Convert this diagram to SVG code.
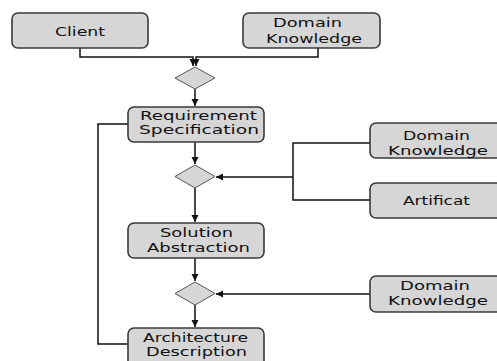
<svg xmlns="http://www.w3.org/2000/svg" width="497" height="361" viewBox="0 0 497 361">
<style>
.box{fill:#d6d6d6;stroke:#3a3a3a;stroke-width:1.6}
.dia{fill:#d6d6d6;stroke:#555;stroke-width:1}
.lbl{font-family:"DejaVu Sans","Liberation Sans",Arial,sans-serif;font-size:12.5px;fill:#111}
.sm{font-size:12px}
.ln{fill:none;stroke:#111;stroke-width:1.5}
</style>
<defs>
<marker id="ah" markerWidth="8" markerHeight="8" refX="7" refY="4" orient="auto" markerUnits="userSpaceOnUse">
<path d="M0,0.5 L7,4 L0,7.5 Z" fill="#111"/>
</marker>
</defs>
<rect width="497" height="361" fill="#fff"/>
<g id="connectors">
<path class="ln" d="M80,48 V57 H193 V66" marker-end="url(#ah)"/>
<path class="ln" d="M318,48 V57 H196 V66" marker-end="url(#ah)"/>
<path class="ln" d="M195,89 V106" marker-end="url(#ah)"/>
<path class="ln" d="M195,142 V164" marker-end="url(#ah)"/>
<path class="ln" d="M195,188 V222" marker-end="url(#ah)"/>
<path class="ln" d="M195,258 V281" marker-end="url(#ah)"/>
<path class="ln" d="M195,305 V327" marker-end="url(#ah)"/>
<path class="ln" d="M128,124 H98 V344 H128"/>
<path class="ln" d="M370,143 H293 V200 H370"/>
<path class="ln" d="M293,177 H216" marker-end="url(#ah)"/>
<path class="ln" d="M370,294 H216" marker-end="url(#ah)"/>
</g>
<g id="decision1"><polygon class="dia" points="195,67 215,78 195,89 175,78"/></g>
<g id="decision2"><polygon class="dia" points="195,165 215,176.5 195,188 175,176.5"/></g>
<g id="decision3"><polygon class="dia" points="195,282 215,293.5 195,305 175,293.5"/></g>
<g id="client">
<rect class="box" x="12" y="13" width="136" height="35" rx="6"/>
<text class="lbl" x="55" y="36" textLength="50" lengthAdjust="spacingAndGlyphs">Client</text>
</g>
<g id="domain-knowledge-1">
<rect class="box" x="243" y="13" width="137" height="35" rx="6"/>
<text class="lbl" x="273" y="27" textLength="69" lengthAdjust="spacingAndGlyphs">Domain</text>
<text class="lbl" x="266" y="43" textLength="96" lengthAdjust="spacingAndGlyphs">Knowledge</text>
</g>
<g id="requirement-specification">
<rect class="box" x="128" y="107" width="136" height="35" rx="6"/>
<text class="lbl" x="140" y="120" textLength="117" lengthAdjust="spacingAndGlyphs">Requirement</text>
<text class="lbl" x="139" y="134" textLength="120" lengthAdjust="spacingAndGlyphs">Specification</text>
</g>
<g id="domain-knowledge-2">
<rect class="box" x="370" y="123" width="135" height="35" rx="6"/>
<text class="lbl" x="403" y="140" textLength="67" lengthAdjust="spacingAndGlyphs">Domain</text>
<text class="lbl" x="388" y="155" textLength="100" lengthAdjust="spacingAndGlyphs">Knowledge</text>
</g>
<g id="artificat">
<rect class="box" x="370" y="183" width="135" height="35" rx="6"/>
<text class="lbl" x="403" y="205" textLength="67" lengthAdjust="spacingAndGlyphs">Artificat</text>
</g>
<g id="solution-abstraction">
<rect class="box" x="128" y="223" width="136" height="35" rx="6"/>
<text class="lbl" x="160" y="237" textLength="73" lengthAdjust="spacingAndGlyphs">Solution</text>
<text class="lbl" x="147" y="252" textLength="103" lengthAdjust="spacingAndGlyphs">Abstraction</text>
</g>
<g id="domain-knowledge-3">
<rect class="box" x="370" y="276" width="135" height="36" rx="6"/>
<text class="lbl" x="400" y="290" textLength="70" lengthAdjust="spacingAndGlyphs">Domain</text>
<text class="lbl" x="388" y="305" textLength="100" lengthAdjust="spacingAndGlyphs">Knowledge</text>
</g>
<g id="architecture-description">
<rect class="box" x="128" y="328" width="136" height="40" rx="6"/>
<text class="lbl sm" x="143" y="342" textLength="105" lengthAdjust="spacingAndGlyphs">Architecture</text>
<text class="lbl sm" x="146" y="356" textLength="101" lengthAdjust="spacingAndGlyphs">Description</text>
</g>
</svg>
